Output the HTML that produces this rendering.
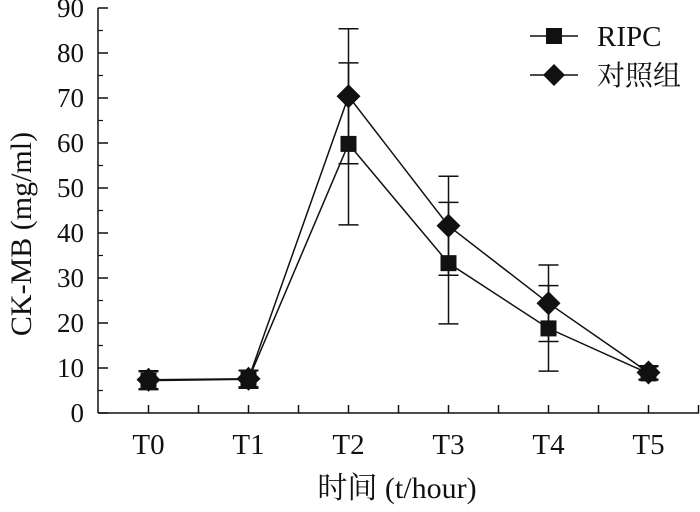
<!DOCTYPE html>
<html><head><meta charset="utf-8"><style>
html,body{margin:0;padding:0;background:#fff;}
svg text{font-family:"Liberation Serif","Noto Serif CJK SC",serif;fill:#111;}
</style></head><body>
<svg width="700" height="507" viewBox="0 0 700 507">
<g id="axes"></g>
<g id="series"></g>
<g>
  <g>
    <line x1="530" y1="36" x2="578" y2="36" stroke="#111" stroke-width="1.5"/>
    <rect x="546" y="28" width="16" height="16" fill="#111"/>
    <text x="597" y="46" font-size="29">RIPC</text>
  </g>
  <g>
    <line x1="530" y1="75" x2="578" y2="75" stroke="#111" stroke-width="1.5"/>
    <path d="M554 64 L565 75 L554 86 L543 75 Z" fill="#111"/>
    <text x="597" y="85" font-size="28">对照组</text>
  </g>
</g>
<text x="397" y="498" font-size="30" text-anchor="middle">时间 (t/hour)</text>
<text transform="translate(31,234) rotate(-90)" font-size="30" text-anchor="middle">CK-MB (mg/ml)</text>
</svg>
<script>
const categories=["T0","T1","T2","T3","T4","T5"];
const ripcValues=[7.2,7.5,59.8,33.3,18.8,8.8];
const ripcErr=[2.0,2.0,18.0,13.5,9.5,1.5];
const controlValues=[7.4,7.6,70.4,41.6,24.4,9.0];
const controlErr=[2.0,1.8,15.0,11.0,8.5,1.5];
const yTicks=[0,10,20,30,40,50,60,70,80,90];
const NS="http://www.w3.org/2000/svg";
const x0=98,y0=413,x1=699;
function yS(v){return y0-v*4.5;}
function xS(i){return 148.5+i*100;}
function mk(tag,attrs,parent){const e=document.createElementNS(NS,tag);for(const k in attrs)e.setAttribute(k,attrs[k]);parent.appendChild(e);return e;}
const ax=document.getElementById('axes');
let l=mk('line',{x1:x0,y1:y0,x2:x1,y2:y0,stroke:'#111','stroke-width':1.5},ax);


l=mk('line',{x1:x0,y1:y0,x2:x0,y2:yS(90),stroke:'#111','stroke-width':1.5},ax);


yTicks.forEach(v=>{
  const t=mk('line',{x1:x0,y1:yS(v),x2:x0+10,y2:yS(v),stroke:'#111','stroke-width':1.5},ax);
  
  
  if(v<90){const m=mk('line',{x1:x0,y1:yS(v+5),x2:x0+5,y2:yS(v+5),stroke:'#111','stroke-width':1.2},ax);
  
  }
  const tx=mk('text',{x:84,y:yS(v)+9,'font-size':27,'text-anchor':'end'},ax);
  tx.textContent=v;
  
  
});
categories.forEach((c,i)=>{
  const t=mk('line',{x1:xS(i),y1:y0,x2:xS(i),y2:y0-8,stroke:'#111','stroke-width':1.5},ax);
  
  
  const m=mk('line',{x1:xS(i)+50,y1:y0,x2:xS(i)+50,y2:y0-8,stroke:'#111','stroke-width':1.5},ax);
  
  
  const tx=mk('text',{x:xS(i),y:454,'font-size':29,'text-anchor':'middle'},ax);
  tx.textContent=c;
  
  
});
const sg=document.getElementById('series');
function drawSeries(vals,errs,name,shape){
  const g=mk('g',{},sg);
  
  
  const pts=vals.map((v,i)=>xS(i)+','+yS(v)).join(' ');
  const pl=mk('polyline',{points:pts,fill:'none',stroke:'#111','stroke-width':1.5},g);
  
  
  vals.forEach((v,i)=>{
    const x=xS(i),hi=yS(v+errs[i]),lo=yS(v-errs[i]);
    const eb=mk('path',{d:`M${x} ${hi}V${lo}M${x-10} ${hi}H${x+10}M${x-10} ${lo}H${x+10}`,stroke:'#111','stroke-width':1.5,fill:'none'},g);
    
    
    let m;
    if(shape==='square'){m=mk('rect',{x:x-8,y:yS(v)-8,width:16,height:16,fill:'#111'},g);}
    else{const y=yS(v);m=mk('path',{d:`M${x} ${y-12}L${x+12} ${y}L${x} ${y+12}L${x-12} ${y}Z`,fill:'#111'},g);}
    
    
  });
}
drawSeries(ripcValues,ripcErr,'ripc','square');
drawSeries(controlValues,controlErr,'control','diamond');
</script>
</body></html>
